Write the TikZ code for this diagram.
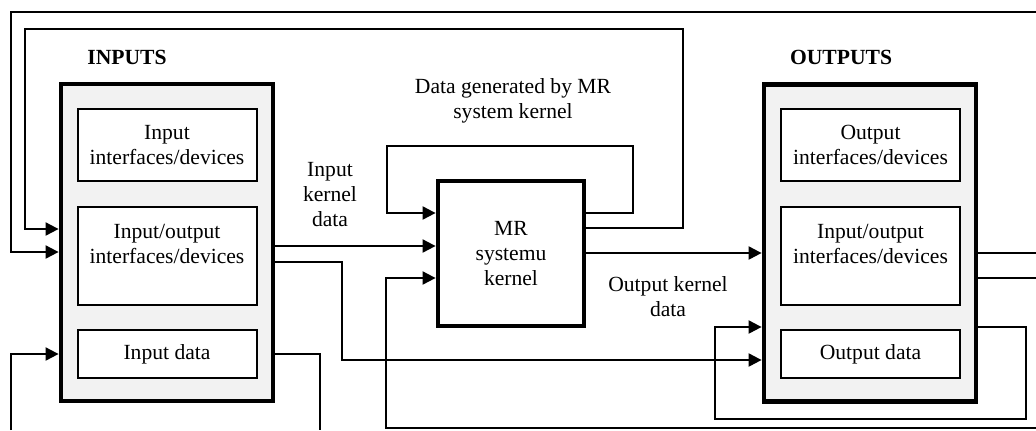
\documentclass[tikz,border=0pt]{standalone}
\usepackage{fontspec}
\setmainfont{Liberation Serif}
\usetikzlibrary{arrows.meta}

\begin{document}
\begin{tikzpicture}[x=0.5pt,y=-0.5pt,font=\fontsize{10.8}{12.5}\selectfont,
    groupstyle/.style={draw,line width=2.4pt,fill=gray!10,minimum width=106pt,minimum height=158.5pt},
    boxstyle/.style={draw,line width=1pt,fill=white,minimum width=89.5pt,align=center,inner sep=0pt},
    kernelstyle/.style={draw,line width=2.4pt,fill=white,minimum width=73pt,minimum height=72.5pt,align=center},
    wire/.style={line width=1pt},
    arr/.style={wire,-{Triangle[length=6.5pt,width=6.5pt]}}]
    \useasboundingbox (0,0) rectangle (1036,430);
    \coordinate (rim) at (1036,430);
    % input side
    \node[groupstyle] (inp) at (167,242.5) {};
    \node (inlabel) at (127,57) {\textbf{INPUTS}};
    \node[boxstyle,minimum height=36.25pt] (indev) at (167,145) {Input\\interfaces/devices};
    \node[boxstyle,minimum height=49pt] (iniod) at (167,256) {Input/output\\interfaces/devices\\\mbox{}};
    \node[boxstyle,minimum height=24pt] (indata) at (167,354) {Input data};
    % kernel
    \node[kernelstyle] (mr) at (511,253.5) {MR\\systemu\\kernel};
    % output side
    \node[groupstyle] (out) at (870,243) {};
    \node (outlabel) at (841,57) {\textbf{OUTPUTS}};
    \node[boxstyle,minimum height=36.25pt] (outdev) at (870.5,145) {Output\\interfaces/devices};
    \node[boxstyle,minimum height=49pt] (outiod) at (870.5,256) {Input/output\\interfaces/devices\\\mbox{}};
    \node[boxstyle,minimum height=24pt] (outdata) at (870.5,354) {Output data};
    % labels
    \node[align=center] (gen) at (513,101) {Data generated by MR\\system kernel};
    \node[align=center] (inkd) at (330,195) {Input\\kernel\\data};
    \node[align=center] (outkd) at (668,297) {Output kernel\\data};
    % feedback round the top
    \draw[arr] (rim |- 0,12) -| (11,252) -- (inp.west |- 0,252);
    \draw[arr] (mr.east |- 0,228) -| (683,29) -| (25,229) -- (inp.west |- 0,229);
    \draw[arr] (mr.east |- 0,213) -| (633,146) -| (387,213) -- (mr.west |- 0,213);
    % inputs to kernel and outputs
    \draw[arr] (inp.east |- 0,246) -- (mr.west |- 0,246);
    \draw[arr] (inp.east |- 0,262) -| (342,360) -- (out.west |- 0,360);
    \draw[wire] (inp.east |- 0,354) -| (rim -| 320,0);
    \draw[arr] (rim -| 11,0) |- (inp.west |- 0,354);
    \draw[arr] (rim |- 0,428) -| (386,278) -- (mr.west |- 0,278);
    % kernel to outputs
    \draw[arr] (mr.east |- 0,253) -- (out.west |- 0,253);
    \draw[arr] (out.east |- 0,327) -| (1026,419) -| (715,327) -- (out.west |- 0,327);
    \foreach \y in {253,278}
      \draw[wire] (out.east |- 0,\y) -- (rim |- 0,\y);
\end{tikzpicture}
\end{document}
